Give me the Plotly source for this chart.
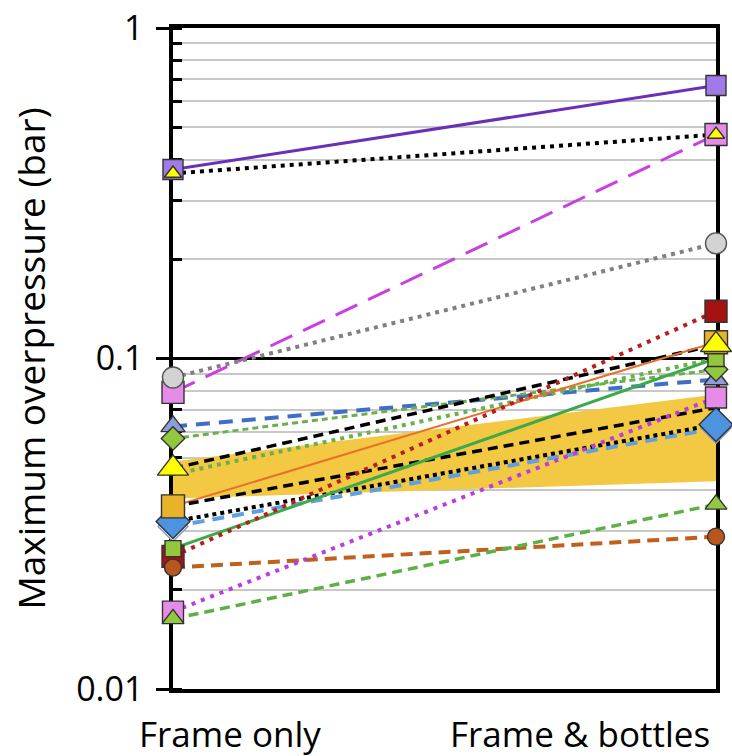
import plotly.graph_objects as go

categories = ["Frame only", "Frame & bottles"]

# Maximum overpressure (bar): [Frame only, Frame & bottles]
purple_solid = [0.373, 0.67]
black_dot_top = [0.363, 0.476]
magenta_longdash = [0.079, 0.476]
gray_dot = [0.0876, 0.223]
blue_dash = [0.0623, 0.0864]
green_shortdash = [0.0573, 0.0926]
black_dash_a = [0.0465, 0.110]
green_dot = [0.0446, 0.100]
orange_solid = [0.0357, 0.112]
black_dash_b = [0.0357, 0.071]
lightblue_dash = [0.0310, 0.0615]
black_dot_b = [0.0321, 0.0631]
green_solid = [0.0266, 0.100]
darkred_dot = [0.0252, 0.139]
brown_dash = [0.0233, 0.0289]
magenta_dot = [0.01715, 0.0762]
green_dash = [0.0163, 0.0362]

band_upper = [0.0488, 0.0778]
band_lower = [0.0377, 0.0425]

y_tickvals = [0.01, 0.1, 1]
y_ticktext = ["0.01", "0.1", "1"]

FONT = "Open Sans"

fig = go.Figure()

# shaded band
fig.add_trace(go.Scatter(
    x=categories + categories[::-1],
    y=band_upper + band_lower[::-1],
    fill="toself", fillcolor="#f3c843", line=dict(width=0),
    mode="lines", hoverinfo="skip", showlegend=False))

# line styles: (values, color, width, dash)
lines = [
    (purple_solid, "#6b2fb8", 3, "solid"),
    (black_dot_top, "#000000", 4, "4px,5px"),
    (magenta_longdash, "#c840e0", 3, "24px,12px"),
    (gray_dot, "#808080", 4, "4px,5px"),
    (blue_dash, "#3f6fc4", 4, "14px,9px"),
    (green_shortdash, "#6ab04c", 3, "6px,4px"),
    (black_dash_a, "#000000", 3.5, "10px,6px"),
    (green_dot, "#6ab04c", 4, "4px,5px"),
    (orange_solid, "#e8702a", 2, "solid"),
    (black_dash_b, "#000000", 3.5, "10px,6px"),
    (lightblue_dash, "#5fa0e0", 4, "12px,8px"),
    (black_dot_b, "#000000", 4, "4px,4px"),
    (green_solid, "#3daa4a", 3, "solid"),
    (darkred_dot, "#b81c1c", 4, "4px,6px"),
    (brown_dash, "#c0601c", 4, "12px,7px"),
    (magenta_dot, "#b93ce0", 4, "4px,6px"),
    (green_dash, "#5cb046", 3.5, "10px,6px"),
]
for vals, col, w, dash in lines:
    fig.add_trace(go.Scatter(
        x=categories, y=vals, mode="lines",
        line=dict(color=col, width=w, dash=dash),
        showlegend=False, hoverinfo="skip"))

# markers: (values, symbol, size, fill, border)
markers = [
    (blue_dash, "triangle-up", 21, "#8d9ddb", "#333333"),
    (magenta_longdash, "square", 22, "#e58be8", "#333333"),
    (gray_dot, "circle", 21, "#d3d3d3", "#555555"),
    (purple_solid, "square", 20, "#a07ae8", "#333333"),
    (black_dot_top, "triangle-up", 15, "#ffff00", "#333333"),
    (green_shortdash, "diamond", 18, "#92c83e", "#333333"),
    (magenta_dot, "square", 21, "#e58be8", "#333333"),
    (lightblue_dash, "diamond", 23, "#e8eefa", "#8899cc"),
    (black_dot_b, "diamond", 26, "#4d94e0", "#333333"),
    (darkred_dot, "square", 22, "#a61111", "#333333"),
    (green_solid, "square", 16, "#92c83e", "#333333"),
    (brown_dash, "circle", 17, "#b9561c", "#333333"),
    (orange_solid, "square", 23, "#e8b22a", "#333333"),
    (black_dash_a, "triangle-up", 27, "#ffff00", "#333333"),
    (green_dash, "triangle-up", 19, "#92c83e", "#333333"),
]
for vals, sym, size, fillc, border in markers:
    fig.add_trace(go.Scatter(
        x=categories, y=vals, mode="markers", cliponaxis=False,
        marker=dict(symbol=sym, size=size, color=fillc,
                    line=dict(color=border, width=1.4)),
        showlegend=False, hoverinfo="skip"))

fig.update_layout(
    width=732, height=756,
    margin=dict(l=173, r=16, t=28, b=67, pad=0),
    paper_bgcolor="white", plot_bgcolor="white",
    font=dict(family=FONT, color="#000000"),
    xaxis=dict(
        type="category", range=[0, 1], showticklabels=False,
        ticks="", showgrid=False, zeroline=False, automargin=False,
        showline=True, linecolor="black", linewidth=3.5, mirror=True,
        layer="below traces"),
    yaxis=dict(
        type="log", range=[-2, 0], automargin=False,
        tickvals=y_tickvals, ticktext=y_ticktext,
        ticks="outside", ticklen=13, tickwidth=3, tickcolor="black",
        tickfont=dict(size=34, family=FONT), ticklabelstandoff=6,
        showgrid=True, gridcolor="black", gridwidth=2.5,
        showline=True, linecolor="black", linewidth=3.5, mirror=True,
        zeroline=False, layer="below traces",
        minor=dict(dtick="D1", ticks="inside", ticklen=9, tickwidth=3,
                   tickcolor="black", showgrid=True,
                   gridcolor="#c8c8c8", gridwidth=1.5),
        title=dict(text="Maximum overpressure (bar)",
                   font=dict(size=37, family=FONT), standoff=20)),
    annotations=[
        dict(text=categories[0], xref="paper", yref="paper",
             x=0.105, y=-0.068, xanchor="center", yanchor="middle",
             showarrow=False, font=dict(size=35, family=FONT)),
        dict(text=categories[1], xref="paper", yref="paper",
             x=0.75, y=-0.068, xanchor="center", yanchor="middle",
             showarrow=False, font=dict(size=35, family=FONT)),
    ],
)

fig.write_html("out.html",
               config={"displayModeBar": False},
               post_script="document.body.style.margin='0';"
                           "document.body.style.padding='0';")
